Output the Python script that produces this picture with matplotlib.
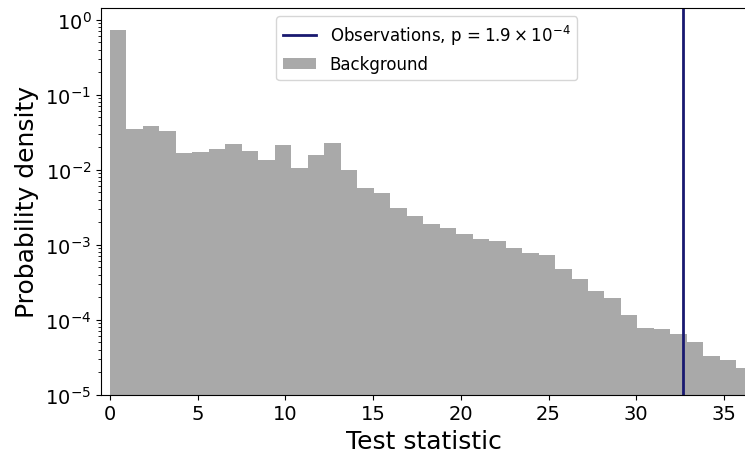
import numpy as np
import matplotlib
matplotlib.use("Agg")
import matplotlib.pyplot as plt

bin_width = 0.9397
density = [0.735, 0.0349, 0.0383, 0.0328, 0.0167, 0.0172, 0.0189, 0.0220, 0.0178, 0.0135,
           0.0213, 0.0105, 0.0157, 0.0227, 0.00991, 0.00570, 0.00489, 0.00308, 0.00241, 0.00189,
           0.00167, 0.00139, 0.00119, 0.00112, 0.000904, 0.000775, 0.000729, 0.000474, 0.000349, 0.000241,
           0.000195, 0.000116, 7.75e-5, 7.52e-5, 6.44e-5, 5.04e-5, 3.28e-5, 2.90e-5, 2.27e-5]
observation = 32.67
obs_label = r'Observations, p$\,=1.9\times10^{-4}$'

edges = np.arange(len(density) + 1) * bin_width

fig = plt.figure(figsize=(7.45, 4.56), dpi=100)
ax = fig.add_axes([0.1356, 0.1322, 0.866, 0.848])

line = ax.axvline(observation, color='midnightblue', lw=2, label=obs_label)
bars = ax.bar(edges[:-1], density, width=bin_width, align='edge', color='darkgray',
              label='Background', linewidth=0)

ax.set_yscale('log')
ax.set_ylim(1e-5, 1.43)
ax.set_xlim(-0.51, 36.27)
ax.set_xticks([0, 5, 10, 15, 20, 25, 30, 35])
ax.tick_params(labelsize=14)
ax.set_xlabel('Test statistic', fontsize=18)
ax.set_ylabel('Probability density', fontsize=18)

ax.legend([line, bars], [obs_label, 'Background'], loc='upper center', fontsize=12,
          bbox_to_anchor=(0.505, 1.0))

fig.savefig('out.png', dpi=100)
